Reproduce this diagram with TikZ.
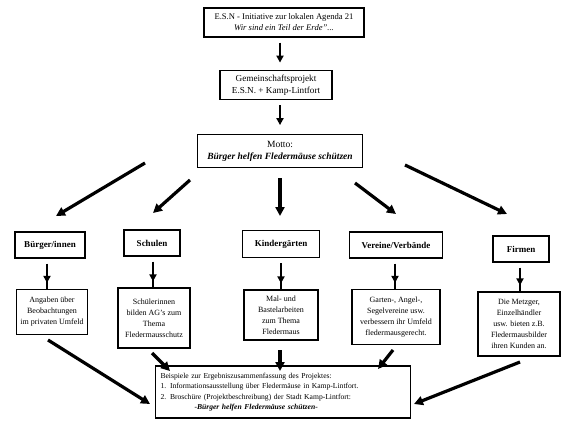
\documentclass[tikz,border=0pt]{standalone}
\usepackage{fontspec}
\setmainfont{Liberation Serif}
\usetikzlibrary{arrows.meta}
\begin{document}
\begin{tikzpicture}[x=1pt,y=-1pt,
  box/.style={draw,line width=1.2pt,inner sep=1pt,align=center,font=\fontsize{8}{11}\selectfont},
  cat/.style={box,font=\bfseries\fontsize{9}{10}\selectfont},
  bigarrow/.style={line width=3.2pt,-{Triangle[length=9pt,width=9pt]}},
  smallarrow/.style={line width=2.6pt,-{Triangle[length=7pt,width=7pt]}}]
\useasboundingbox (0,0) rectangle (567,425);
% top chain
\node[box,font=\fontsize{8.6}{11}\selectfont,minimum width=160,minimum height=29] (top) at (284,22.5)
  {E.S.N - Initiative zur lokalen Agenda 21\\\textit{Wir sind ein Teil der Erde"...}};
\node[box,font=\fontsize{9.2}{12}\selectfont,minimum width=112,minimum height=29] (gem) at (276,85)
  {Gemeinschaftsprojekt\\E.S.N. + Kamp-Lintfort};
\node[box,font=\fontsize{9.5}{12}\selectfont,minimum width=165,minimum height=33] (motto) at (280,151)
  {Motto:\\\textbf{\textit{Bürger helfen Fledermäuse schützen}}};
\draw[smallarrow] (top.south -| 280,0) ++(0,5) coordinate (a1) -- ++(0,20) coordinate (a2);
\draw[smallarrow] (gem.south -| 280,0) ++(0,5) coordinate (b1) -- ++(0,20) coordinate (b2);
% categories
\node[cat,minimum width=70,minimum height=26] (buerger) at (50,245) {Bürger/innen};
\node[cat,minimum width=56,minimum height=26] (schulen) at (152,243) {Schulen};
\node[cat,minimum width=77,minimum height=27] (kinder) at (281,244) {Kindergärten};
\node[cat,minimum width=93,minimum height=26] (vereine) at (396,245) {Vereine/Verbände};
\node[cat,minimum width=56,minimum height=26] (firmen) at (521,249) {Firmen};
% arrows from motto
\coordinate (m1) at (145,163); \coordinate (c1) at (56,216);
\coordinate (m2) at (190,180); \coordinate (c2) at (153,213);
\coordinate (m3) at (280,178); \coordinate (c3) at (280,216);
\coordinate (m4) at (355,183); \coordinate (c4) at (396,214);
\coordinate (m5) at (405,165); \coordinate (c5) at (507,214);
\foreach \i in {1,...,5} \draw[bigarrow] (m\i) -- (c\i);
% detail boxes
\node[box,minimum width=71,minimum height=45] (dA) at (52,312)
  {Angaben über\\Beobachtungen\\im privaten Umfeld};
\node[box,minimum width=72,minimum height=60] (dB) at (154,318)
  {Schülerinnen\\bilden AG's zum\\Thema\\Fledermausschutz};
\node[box,minimum width=74,minimum height=50] (dC) at (281,315)
  {Mal- und\\Bastelarbeiten\\zum Thema\\Fledermaus};
\node[box,minimum width=88,minimum height=55] (dD) at (396,317)
  {Garten-, Angel-,\\Segelvereine usw.\\verbessern ihr Umfeld\\fledermausgerecht.};
\node[box,minimum width=82,minimum height=64] (dE) at (519,324)
  {Die Metzger,\\Einzelhändler\\usw. bieten z.B.\\Fledermausbilder\\ihren Kunden an.};
\foreach \c/\d/\x in {buerger/dA/47,schulen/dB/153,kinder/dC/281,vereine/dD/395,firmen/dE/520}
  \draw[smallarrow] (\c.south -| \x,0) ++(0,5) coordinate (u) -- (\d.north -| \x,0) ++(0,-6) coordinate (v) (u) -- (v);
% bottom box
\node[box,font=\fontsize{7.6}{10.5}\selectfont,minimum width=255,minimum height=52,text width=245,align=left] (res) at (283,392)
  {Beispiele zur Ergebniszusammenfassung des Projektes:\\
   1. Informationsausstellung über Fledermäuse in Kamp-Lintfort.\\
   2. Broschüre (Projektbeschreibung) der Stadt Kamp-Lintfort:\\
   \hspace*{34pt}\textbf{\textit{-Bürger helfen Fledermäuse schützen-}}};
\coordinate (r1) at (48,340); \coordinate (s1) at (150,404);
\coordinate (r2) at (152,353); \coordinate (s2) at (170,371);
\coordinate (r3) at (280,350); \coordinate (s3) at (280,371);
\coordinate (r4) at (393,350); \coordinate (s4) at (378,369);
\coordinate (r5) at (520,362); \coordinate (s5) at (414,404);
\foreach \i in {1,...,5} \draw[bigarrow] (r\i) -- (s\i);
\end{tikzpicture}
\end{document}
